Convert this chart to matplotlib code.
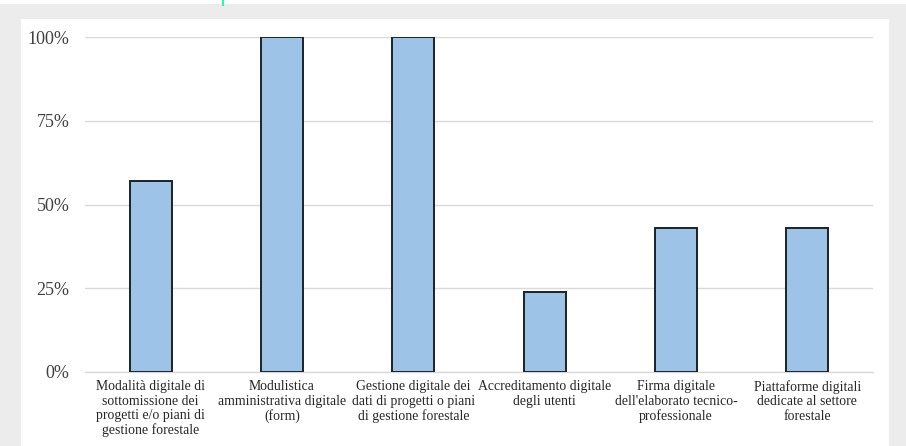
import matplotlib
matplotlib.use("Agg")
import matplotlib.pyplot as plt
import matplotlib.ticker as ticker
from matplotlib.patches import Rectangle
from matplotlib.lines import Line2D

# Share of respondents adopting each digital tool
categories = [
    "Modalità digitale di\nsottomissione dei\nprogetti e/o piani di\ngestione forestale",
    "Modulistica\namministrativa digitale\n(form)",
    "Gestione digitale dei\ndati di progetti o piani\ndi gestione forestale",
    "Accreditamento digitale\ndegli utenti",
    "Firma digitale\ndell'elaborato tecnico-\nprofessionale",
    "Piattaforme digitali\ndedicate al settore\nforestale",
]
values = [0.571, 1.0, 1.0, 0.238, 0.429, 0.429]
yticks = [0, 0.25, 0.5, 0.75, 1.0]

plt.rcParams["font.family"] = ["Liberation Serif", "DejaVu Serif"]

fig = plt.figure(figsize=(9.06, 4.46), dpi=100)
fig.patch.set_facecolor("#ececec")

# white frame behind the chart, plus the thin strip along the top edge
W, H = 906, 446
fig.add_artist(Rectangle((21 / W, 0), (889 - 21) / W, 1 - 19 / H,
                         transform=fig.transFigure, facecolor="white",
                         edgecolor="none", zorder=0))
fig.add_artist(Rectangle((0, 1 - 4 / H), 1, 4 / H, transform=fig.transFigure,
                         facecolor="white", edgecolor="none", zorder=0))
fig.add_artist(Line2D([222.5 / W, 222.5 / W], [1, 1 - 5 / H],
                      transform=fig.transFigure, color="#33f5a8", linewidth=1.5))

ax = fig.add_axes([85 / W, 1 - 372 / H, (873 - 85) / W, (372 - 37) / H])
ax.set_facecolor("white")

x = range(len(categories))
ax.bar(x, values, width=0.32, color="#9dc3e6", edgecolor="#1a2228",
       linewidth=1.4, zorder=3)

ax.set_xlim(-0.5, len(categories) - 0.5)
ax.set_ylim(0, 1.0)
ax.set_yticks(yticks)
ax.yaxis.set_major_formatter(ticker.FuncFormatter(lambda v, _: f"{v * 100:.0f}%"))
ax.tick_params(axis="y", length=0, pad=11, labelsize=13, labelcolor="#404040")
ax.set_xticks(list(x))
ax.set_xticklabels(categories, fontsize=9.9, color="#262626", linespacing=1.12,
                   va="top")
ax.tick_params(axis="x", length=0, pad=6)

ax.grid(axis="y", color="#d9d9d9", linewidth=1.0, zorder=0)
for side in ["top", "right", "left"]:
    ax.spines[side].set_visible(False)
ax.spines["bottom"].set_color("#d9d9d9")
ax.spines["bottom"].set_linewidth(1.0)

fig.savefig("out.png", dpi=100, facecolor=fig.get_facecolor())
